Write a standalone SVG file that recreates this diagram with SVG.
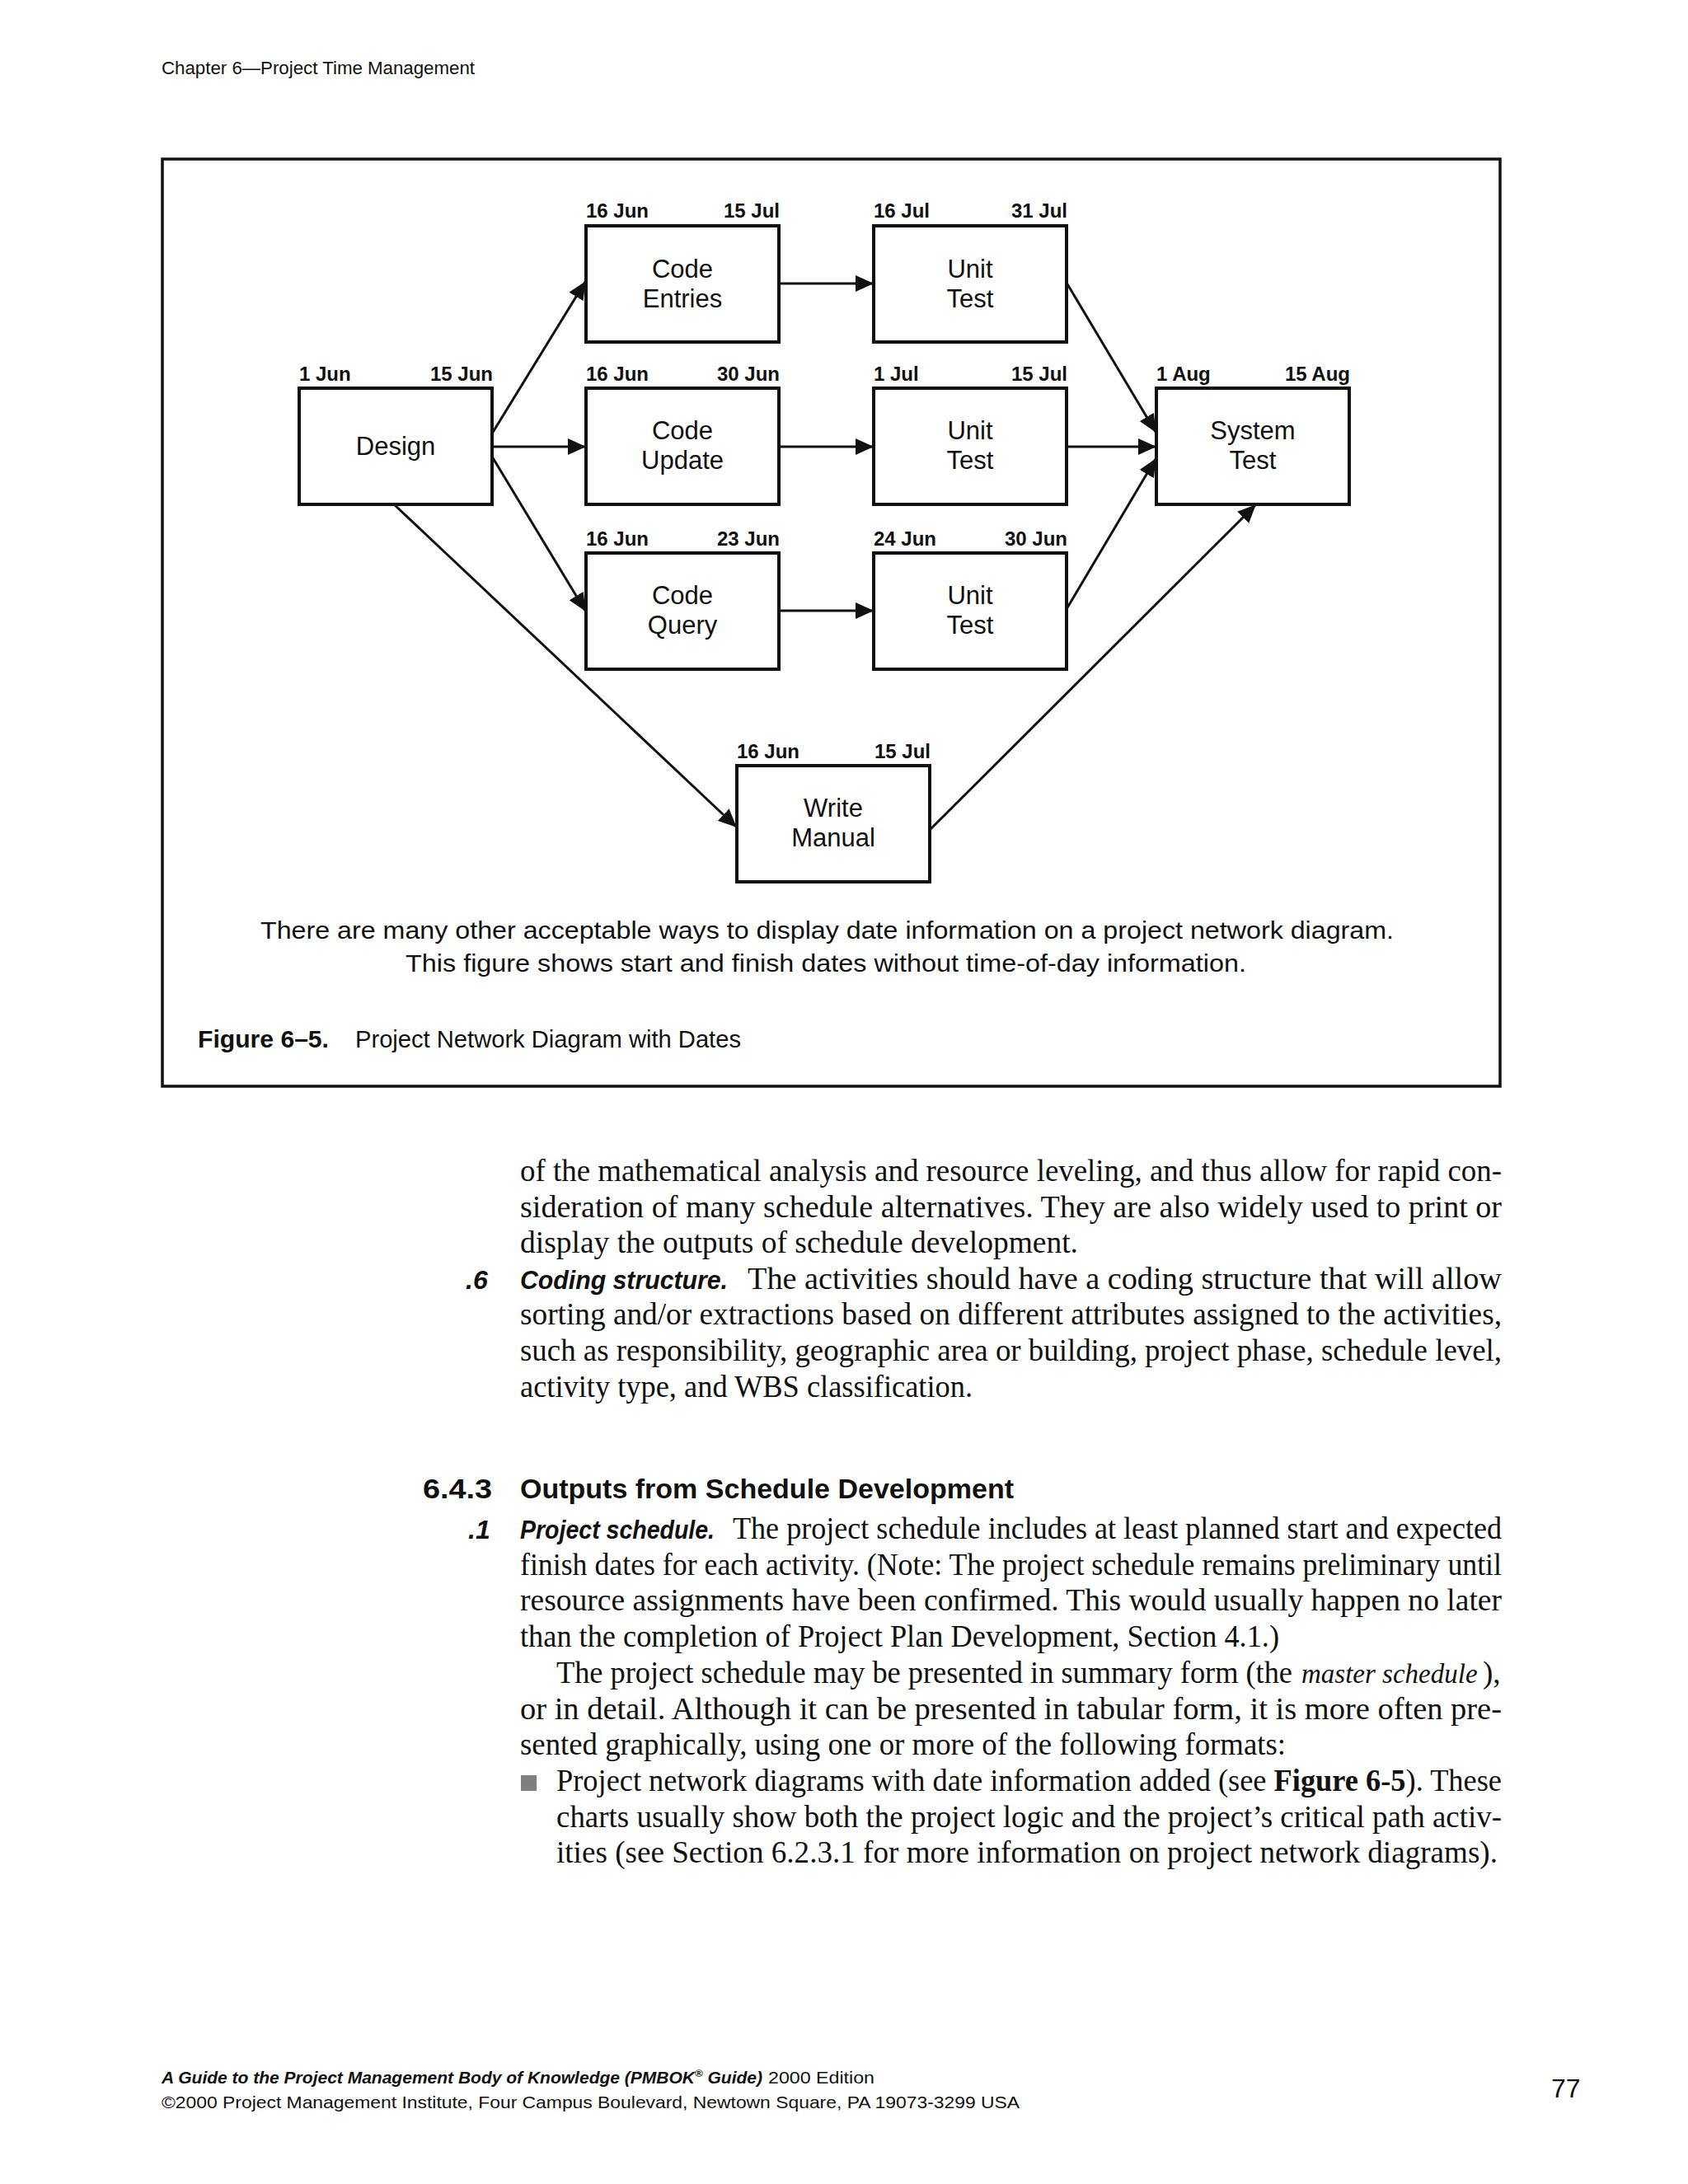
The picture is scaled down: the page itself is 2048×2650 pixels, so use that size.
<svg xmlns="http://www.w3.org/2000/svg" width="2048" height="2650" viewBox="0 0 2048 2650">
<style>
.box{fill:#fff;stroke:#111;stroke-width:4}
.lbl{font-family:"Liberation Sans",Arial,sans-serif;font-size:31px;fill:#111;text-anchor:middle}
.dt{font-family:"Liberation Sans",Arial,sans-serif;font-size:24px;font-weight:bold;fill:#111}
.dr{text-anchor:end}
.edge{stroke:#111;stroke-width:3;fill:none;marker-end:url(#ah)}
.cap{font-family:"Liberation Sans",Arial,sans-serif;font-size:30px;fill:#111}
.body{font-family:"Liberation Serif","Times New Roman",serif;font-size:37px;fill:#111}
.sbi{font-family:"Liberation Sans",Arial,sans-serif;font-size:32px;font-weight:bold;font-style:italic;fill:#111}
.hd{font-family:"Liberation Sans",Arial,sans-serif;font-size:33px;font-weight:bold;fill:#111}
.ft{font-family:"Liberation Sans",Arial,sans-serif;font-size:21px;fill:#111}
</style>
<defs>
<marker id="ah" markerUnits="userSpaceOnUse" markerWidth="22" markerHeight="20" viewBox="0 0 22 20" refX="21" refY="10" orient="auto">
<path d="M0,0 L22,10 L0,20 Z" fill="#111"/>
</marker>
</defs>
<rect width="2048" height="2650" fill="#fff"/>

<text x="196" y="90" class="ft" textLength="380" lengthAdjust="spacingAndGlyphs" style="font-size:22px">Chapter 6—Project Time Management</text>

<rect x="197" y="193" width="1623" height="1125" fill="none" stroke="#111" stroke-width="3.5"/>

<g id="connectors">
<line class="edge" x1="597" y1="526" x2="710" y2="342"/>
<line class="edge" x1="597" y1="542" x2="710" y2="542"/>
<line class="edge" x1="597" y1="554" x2="710" y2="741"/>
<line class="edge" x1="478" y1="612" x2="893" y2="1003"/>
<line class="edge" x1="945" y1="344" x2="1059" y2="344"/>
<line class="edge" x1="945" y1="542" x2="1059" y2="542"/>
<line class="edge" x1="945" y1="741" x2="1059" y2="741"/>
<line class="edge" x1="1294" y1="343" x2="1402" y2="524"/>
<line class="edge" x1="1294" y1="542" x2="1402" y2="542"/>
<line class="edge" x1="1294" y1="739" x2="1402" y2="557"/>
<line class="edge" x1="1128" y1="1007" x2="1523" y2="613"/>
</g>

<g id="node-design">
<rect class="box" x="363" y="471" width="234" height="141"/>
<text class="lbl" x="480" y="552">Design</text>
<text class="dt" x="363" y="462">1 Jun</text>
<text class="dt dr" x="598" y="462">15 Jun</text>
</g>
<g id="node-code-entries">
<rect class="box" x="711" y="274" width="234" height="141"/>
<text class="lbl" x="828" y="337">Code</text>
<text class="lbl" x="828" y="373">Entries</text>
<text class="dt" x="711" y="264">16 Jun</text>
<text class="dt dr" x="946" y="264">15 Jul</text>
</g>
<g id="node-code-update">
<rect class="box" x="711" y="471" width="234" height="141"/>
<text class="lbl" x="828" y="533">Code</text>
<text class="lbl" x="828" y="569">Update</text>
<text class="dt" x="711" y="462">16 Jun</text>
<text class="dt dr" x="946" y="462">30 Jun</text>
</g>
<g id="node-code-query">
<rect class="box" x="711" y="671" width="234" height="141"/>
<text class="lbl" x="828" y="733">Code</text>
<text class="lbl" x="828" y="769">Query</text>
<text class="dt" x="711" y="662">16 Jun</text>
<text class="dt dr" x="946" y="662">23 Jun</text>
</g>
<g id="node-unit-test-1">
<rect class="box" x="1060" y="274" width="234" height="141"/>
<text class="lbl" x="1177" y="337">Unit</text>
<text class="lbl" x="1177" y="373">Test</text>
<text class="dt" x="1060" y="264">16 Jul</text>
<text class="dt dr" x="1295" y="264">31 Jul</text>
</g>
<g id="node-unit-test-2">
<rect class="box" x="1060" y="471" width="234" height="141"/>
<text class="lbl" x="1177" y="533">Unit</text>
<text class="lbl" x="1177" y="569">Test</text>
<text class="dt" x="1060" y="462">1 Jul</text>
<text class="dt dr" x="1295" y="462">15 Jul</text>
</g>
<g id="node-unit-test-3">
<rect class="box" x="1060" y="671" width="234" height="141"/>
<text class="lbl" x="1177" y="733">Unit</text>
<text class="lbl" x="1177" y="769">Test</text>
<text class="dt" x="1060" y="662">24 Jun</text>
<text class="dt dr" x="1295" y="662">30 Jun</text>
</g>
<g id="node-system-test">
<rect class="box" x="1403" y="471" width="234" height="141"/>
<text class="lbl" x="1520" y="533">System</text>
<text class="lbl" x="1520" y="569">Test</text>
<text class="dt" x="1403" y="462">1 Aug</text>
<text class="dt dr" x="1638" y="462">15 Aug</text>
</g>
<g id="node-write-manual">
<rect class="box" x="894" y="929" width="234" height="141"/>
<text class="lbl" x="1011" y="991">Write</text>
<text class="lbl" x="1011" y="1027">Manual</text>
<text class="dt" x="894" y="920">16 Jun</text>
<text class="dt dr" x="1129" y="920">15 Jul</text>
</g>

<text class="cap" x="316" y="1139" textLength="1375" lengthAdjust="spacingAndGlyphs">There are many other acceptable ways to display date information on a project network diagram.</text>
<text class="cap" x="492" y="1179" textLength="1020" lengthAdjust="spacingAndGlyphs">This figure shows start and finish dates without time-of-day information.</text>
<text class="cap" x="240" y="1271" font-weight="bold" style="font-size:29px" textLength="159" lengthAdjust="spacingAndGlyphs">Figure 6–5.</text>
<text class="cap" x="431" y="1271" style="font-size:29px" textLength="468" lengthAdjust="spacingAndGlyphs">Project Network Diagram with Dates</text>

<text class="body" x="631" y="1433" textLength="1191" lengthAdjust="spacingAndGlyphs">of the mathematical analysis and resource leveling, and thus allow for rapid con-</text>
<text class="body" x="631" y="1476.6" textLength="1191" lengthAdjust="spacingAndGlyphs">sideration of many schedule alternatives. They are also widely used to print or</text>
<text class="body" x="631" y="1520.2" textLength="677" lengthAdjust="spacingAndGlyphs">display the outputs of schedule development.</text>
<text class="sbi" x="565" y="1563.8">.6</text>
<text class="sbi" x="631" y="1563.8" textLength="252" lengthAdjust="spacingAndGlyphs">Coding structure.</text>
<text class="body" x="907" y="1563.8" textLength="915" lengthAdjust="spacingAndGlyphs">The activities should have a coding structure that will allow</text>
<text class="body" x="631" y="1607.4" textLength="1191" lengthAdjust="spacingAndGlyphs">sorting and/or extractions based on different attributes assigned to the activities,</text>
<text class="body" x="631" y="1651" textLength="1191" lengthAdjust="spacingAndGlyphs">such as responsibility, geographic area or building, project phase, schedule level,</text>
<text class="body" x="631" y="1694.6" textLength="549" lengthAdjust="spacingAndGlyphs">activity type, and WBS classification.</text>

<text class="hd" x="513" y="1818" textLength="84" lengthAdjust="spacingAndGlyphs">6.4.3</text>
<text class="hd" x="631" y="1818" textLength="599" lengthAdjust="spacingAndGlyphs">Outputs from Schedule Development</text>

<text class="sbi" x="568" y="1867">.1</text>
<text class="sbi" x="631" y="1867" textLength="236" lengthAdjust="spacingAndGlyphs">Project schedule.</text>
<text class="body" x="889" y="1867" textLength="933" lengthAdjust="spacingAndGlyphs">The project schedule includes at least planned start and expected</text>
<text class="body" x="631" y="1910.7" textLength="1191" lengthAdjust="spacingAndGlyphs">finish dates for each activity. (Note: The project schedule remains preliminary until</text>
<text class="body" x="631" y="1954.4" textLength="1191" lengthAdjust="spacingAndGlyphs">resource assignments have been confirmed. This would usually happen no later</text>
<text class="body" x="631" y="1998.1" textLength="921" lengthAdjust="spacingAndGlyphs">than the completion of Project Plan Development, Section 4.1.)</text>
<text class="body" x="675" y="2041.8" textLength="893" lengthAdjust="spacingAndGlyphs">The project schedule may be presented in summary form (the</text>
<text class="body" x="1579" y="2041.8" font-style="italic" style="font-size:33px">master schedule</text>
<text class="body" x="1799" y="2041.8">),</text>
<text class="body" x="631" y="2085.5" textLength="1191" lengthAdjust="spacingAndGlyphs">or in detail. Although it can be presented in tabular form, it is more often pre-</text>
<text class="body" x="631" y="2129.2" textLength="929" lengthAdjust="spacingAndGlyphs">sented graphically, using one or more of the following formats:</text>
<rect x="632" y="2154" width="19" height="19" fill="#7f7f7f"/>
<text class="body" x="675" y="2172.9" textLength="1147" lengthAdjust="spacingAndGlyphs">Project network diagrams with date information added (see <tspan font-weight="bold">Figure 6-5</tspan>). These</text>
<text class="body" x="675" y="2216.6" textLength="1147" lengthAdjust="spacingAndGlyphs">charts usually show both the project logic and the project’s critical path activ-</text>
<text class="body" x="675" y="2260.3" textLength="1142" lengthAdjust="spacingAndGlyphs">ities (see Section 6.2.3.1 for more information on project network diagrams).</text>

<text class="ft" x="196" y="2528" font-weight="bold" font-style="italic" textLength="729" lengthAdjust="spacingAndGlyphs">A Guide to the Project Management Body of Knowledge (PMBOK<tspan font-size="13" dy="-8">®</tspan><tspan dy="8"> Guide)</tspan></text>
<text class="ft" x="932" y="2528" textLength="129" lengthAdjust="spacingAndGlyphs">2000 Edition</text>
<text class="ft" x="196" y="2558" textLength="1041" lengthAdjust="spacingAndGlyphs">©2000 Project Management Institute, Four Campus Boulevard, Newtown Square, PA 19073-3299 USA</text>
<text class="ft" x="1882" y="2545" style="font-size:32px">77</text>
</svg>
